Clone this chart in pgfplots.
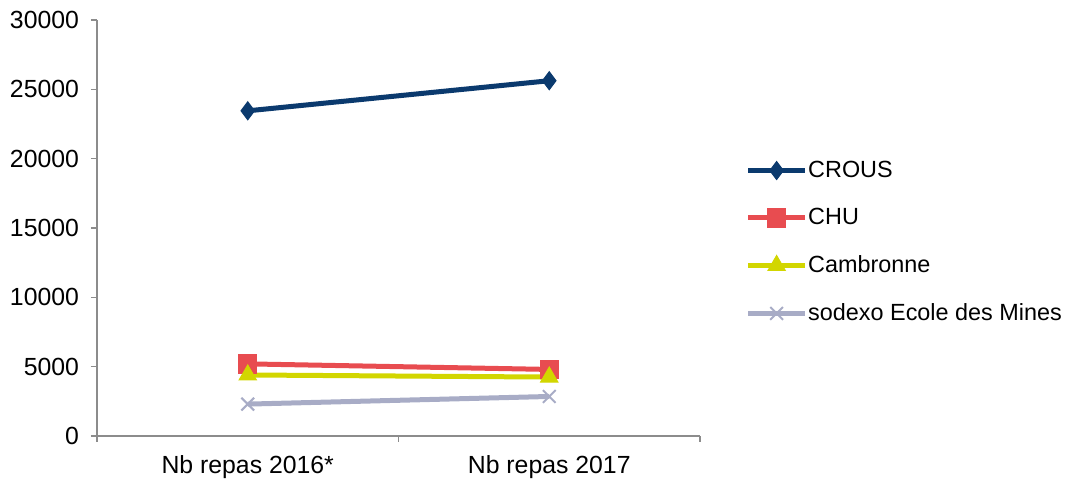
\documentclass[border=0pt]{standalone}
\usepackage{pgfplots}
\pgfplotsset{compat=1.18}
\usepackage{fontspec}
\setmainfont{Liberation Sans}

\definecolor{crous}{HTML}{0B3A6E}
\definecolor{chu}{HTML}{E84C50}
\definecolor{camb}{HTML}{D2D600}
\definecolor{sodexo}{HTML}{A8ACC6}
\definecolor{axgray}{HTML}{8C8C8C}

\begin{document}
\begin{tikzpicture}
  \begin{axis}[
      name=ax,
      scale only axis,
      width=301.5pt, height=208pt,
      xmin=-0.5, xmax=1.5,
      ymin=0, ymax=30000,
      ytick={0,5000,...,30000},
      xtick={0,1},
      xticklabels={Nb repas 2016*, Nb repas 2017},
      minor xtick={-0.5,0.5,1.5},
      axis lines=left,
      axis line style={axgray, line width=0.8pt, -},
      tick align=outside,
      major tick length=3pt,
      minor tick length=3pt,
      x tick style={draw=none},
      minor x tick style={axgray, line width=0.8pt, draw=axgray},
      y tick style={axgray, line width=0.8pt},
      scaled ticks=false,
      y tick label style={/pgf/number format/.cd, fixed, 1000 sep={}, assume math mode=true, /tikz/.cd},
      tick label style={font=\fontsize{12.4}{14.4}\selectfont},
      yticklabel style={xshift=-2.5pt},
      xticklabel style={yshift=-3pt},
      legend style={at={(1.075,0.466)}, anchor=west, draw=none,
        font=\fontsize{11.7}{14}\selectfont,
        row sep=10pt, inner sep=0pt,
        nodes={inner xsep=0.3pt},
        /tikz/every even column/.append style={column sep=0pt}},
      legend cell align=left,
      legend image code/.code={\draw[mark repeat=2,mark phase=2,#1] plot coordinates {(0pt,0pt) (14.25pt,0pt) (28.5pt,0pt)};},
      every axis plot/.append style={line width=2.5pt},
    ]
    \addplot[color=crous, mark=diamond*, mark size=4.5pt, mark options={solid, line width=0.5pt, fill=crous}]
      coordinates {(0,23450) (1,25620)};
    \addplot[color=chu, mark=square*, mark size=4.6pt, mark options={solid, line width=0.5pt, fill=chu}]
      coordinates {(0,5200) (1,4800)};
    \addplot[color=camb, mark=triangle*, mark size=5pt, mark options={solid, line width=0.5pt, fill=camb}]
      coordinates {(0,4400) (1,4250)};
    \addplot[color=sodexo, mark=x, mark size=4.5pt, mark options={solid, line width=1pt}]
      coordinates {(0,2300) (1,2850)};
    \legend{CROUS, CHU, Cambronne, sodexo Ecole des Mines}
  \end{axis}
  \pgfresetboundingbox
  \path[use as bounding box] ([shift={(-48.5pt,-22pt)}]ax.south west) rectangle ([shift={(486.5pt,218pt)}]ax.south west);
\end{tikzpicture}
\end{document}
